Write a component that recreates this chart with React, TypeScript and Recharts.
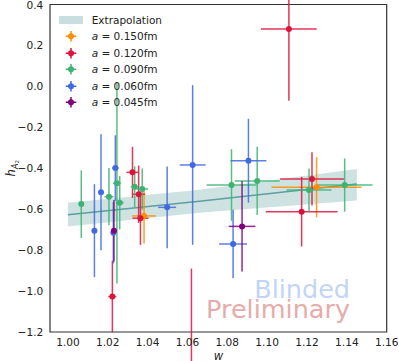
import {
  ComposedChart,
  XAxis,
  YAxis,
  Scatter,
  ErrorBar,
  Area,
  Line,
  Legend,
  ReferenceArea,
  ReferenceDot,
} from "recharts";

type Pt = { w: number; h: number; ew: number; eh: number };

// fit band (extrapolation)
const bandW = [1.0, 1.066, 1.145];
const bandLow = [-0.685, -0.617, -0.558];
const bandHigh = [-0.568, -0.505, -0.404];
const bandMid = [-0.627, -0.561, -0.477];

const a150: Pt[] = [
  { w: 1.0382, h: -0.633, ew: 0.006, eh: 0.135 },
  { w: 1.1248, h: -0.493, ew: 0.0226, eh: 0.147 },
];

const a120: Pt[] = [
  { w: 1.0223, h: -1.027, ew: 0.002, eh: 0.175 },
  { w: 1.0324, h: -0.42, ew: 0.003, eh: 0.125 },
  { w: 1.0355, h: -0.527, ew: 0.0033, eh: 0.14 },
  { w: 1.0364, h: -0.644, ew: 0.004, eh: 0.13 },
  { w: 1.062, h: -1.4, ew: 0.002, eh: 0.51 },
  { w: 1.1109, h: 0.28, ew: 0.014, eh: 0.35 },
  { w: 1.1173, h: -0.612, ew: 0.018, eh: 0.17 },
  { w: 1.1225, h: -0.452, ew: 0.016, eh: 0.13 },
];

const a090: Pt[] = [
  { w: 1.0067, h: -0.575, ew: 0.001, eh: 0.165 },
  { w: 1.0206, h: -0.539, ew: 0.0023, eh: 0.14 },
  { w: 1.0246, h: -0.473, ew: 0.002, eh: 0.49 },
  { w: 1.026, h: -0.568, ew: 0.002, eh: 0.13 },
  { w: 1.0335, h: -0.49, ew: 0.002, eh: 0.1 },
  { w: 1.0373, h: -0.501, ew: 0.003, eh: 0.1 },
  { w: 1.0821, h: -0.482, ew: 0.0125, eh: 0.175 },
  { w: 1.095, h: -0.462, ew: 0.0113, eh: 0.167 },
  { w: 1.121, h: -0.506, ew: 0.0113, eh: 0.105 },
  { w: 1.1389, h: -0.482, ew: 0.014, eh: 0.13 },
];

const a060: Pt[] = [
  { w: 1.0133, h: -0.705, ew: 0.001, eh: 0.227 },
  { w: 1.0166, h: -0.517, ew: 0.001, eh: 0.283 },
  { w: 1.0238, h: -0.399, ew: 0.0017, eh: 0.16 },
  { w: 1.0228, h: -0.715, ew: 0.001, eh: 0.15 },
  { w: 1.0498, h: -0.591, ew: 0.0045, eh: 0.2 },
  { w: 1.0626, h: -0.384, ew: 0.0065, eh: 0.39 },
  { w: 1.0906, h: -0.363, ew: 0.009, eh: 0.205 },
  { w: 1.0829, h: -0.77, ew: 0.007, eh: 0.167 },
];

const a045: Pt[] = [
  { w: 1.0231, h: -0.705, ew: 0.001, eh: 0.15 },
  { w: 1.0874, h: -0.684, ew: 0.0067, eh: 0.22 },
];

const xTicks = [1.0, 1.02, 1.04, 1.06, 1.08, 1.1, 1.12, 1.14, 1.16];
const yTicks = [-1.2, -1.0, -0.8, -0.6, -0.4, -0.2, 0.0, 0.2, 0.4];

const FONT = "DejaVu Sans, sans-serif";
const INK = "#222";
const FIT = "#5f9ea0";
const BAND_FILL = "#c9dfdf";

const series = [
  { label: "0.150", color: "#ff8c00", data: a150 },
  { label: "0.120", color: "#dc143c", data: a120 },
  { label: "0.090", color: "#3cb371", data: a090 },
  { label: "0.060", color: "#4169e1", data: a060 },
  { label: "0.045", color: "#800080", data: a045 },
];

const bandData = bandW.map((w, i) => ({
  w,
  band: [bandLow[i], bandHigh[i]],
  fit: bandMid[i],
}));

const minus = (s: string) => s.replace("-", "\u2212");

function LegendBox() {
  const row = { display: "flex", alignItems: "center", height: 16.5 } as const;
  return (
    <div style={{ fontFamily: FONT, fontSize: 10.5, color: INK, whiteSpace: "nowrap" }}>
      <div style={row}>
        <span style={{ display: "inline-block", width: 36.7 }}>
          <span
            style={{ display: "block", marginLeft: 4.3, width: 23.4, height: 7.6, background: BAND_FILL }}
          />
        </span>
        Extrapolation
      </div>
      {series.map((s) => (
        <div key={s.label} style={row}>
          <svg width={36.7} height={16.5} style={{ display: "block" }}>
            <line x1={10.7} x2={21.3} y1={8.25} y2={8.25} stroke={s.color} strokeWidth={1.5} />
            <line x1={16} x2={16} y1={2.9} y2={13.6} stroke={s.color} strokeWidth={1.5} />
            <circle cx={16} cy={8.25} r={3} fill={s.color} />
          </svg>
          <span>
            <i>a</i> = {s.label}fm
          </span>
        </div>
      ))}
    </div>
  );
}

function YLabel(props: any) {
  const vb = props.viewBox;
  const cx = vb.x + 15;
  const cy = vb.y + vb.height / 2;
  return (
    <text
      transform={`translate(${cx},${cy}) rotate(-90)`}
      textAnchor="middle"
      fontFamily={FONT}
      fontSize={11.5}
      fill={INK}
    >
      <tspan fontStyle="italic">h</tspan>
      <tspan fontStyle="italic" fontSize={8} dy={2.5}>
        A
      </tspan>
      <tspan fontSize={5.5} dy={1.5}>
        2
      </tspan>
    </text>
  );
}

function XLabel(props: any) {
  const vb = props.viewBox;
  return (
    <text
      x={vb.x + vb.width / 2}
      y={vb.y + 27.5}
      textAnchor="middle"
      fontFamily={FONT}
      fontSize={11.5}
      fontStyle="italic"
      fill={INK}
    >
      w
    </text>
  );
}

function mark(text: string, color: string) {
  return (props: any) => (
    <text
      x={props.viewBox.x}
      y={props.viewBox.y}
      textAnchor="end"
      fontFamily={FONT}
      fontSize={25.5}
      fill={color}
    >
      {text}
    </text>
  );
}

export default function App() {
  return (
    <div style={{ position: "fixed", top: 0, left: 0, background: "#fff" }}>
      <ComposedChart width={399} height={361} margin={{ top: 4.5, right: 12.3, bottom: 0, left: 0 }}>
        <XAxis
          dataKey="w"
          type="number"
          domain={[0.991, 1.16]}
          allowDataOverflow
          ticks={xTicks}
          tickFormatter={(v: number) => v.toFixed(2)}
          tickLine={false}
          tickSize={4.5}
          tickMargin={2}
          axisLine={false}
          height={29}
          tick={{ fontSize: 10.6, fill: INK, fontFamily: FONT }}
          label={{ content: XLabel }}
        />
        <YAxis
          dataKey="h"
          type="number"
          domain={[-1.2, 0.4]}
          allowDataOverflow
          ticks={yTicks}
          tickFormatter={(v: number) => minus(v.toFixed(1))}
          tickLine={false}
          tickSize={5}
          tickMargin={1.7}
          axisLine={false}
          width={50}
          tick={{ fontSize: 10.6, fill: INK, fontFamily: FONT }}
          label={{ content: YLabel }}
        />
        <Area
          data={bandData}
          dataKey="band"
          stroke="none"
          fill={FIT}
          fillOpacity={0.3}
          isAnimationActive={false}
        />
        <Line
          data={bandData}
          dataKey="fit"
          stroke={FIT}
          strokeWidth={1.5}
          dot={false}
          isAnimationActive={false}
        />
        {series.map((s) => (
          <Scatter
            key={s.label}
            data={s.data}
            fill={s.color}
            isAnimationActive={false}
            shape={(p: any) => <circle cx={p.cx} cy={p.cy} r={3} fill={s.color} />}
          >
            <ErrorBar dataKey="eh" direction="y" width={0} stroke={s.color} strokeWidth={1.5} strokeOpacity={0.85} />
            <ErrorBar dataKey="ew" direction="x" width={0} stroke={s.color} strokeWidth={1.5} strokeOpacity={0.85} />
          </Scatter>
        ))}
        <ReferenceDot x={1.1416} y={-1.035} r={0} stroke="none" label={{ content: mark("Blinded", "#c3d5f6") }} />
        <ReferenceDot
          x={1.1416}
          y={-1.133}
          r={0}
          stroke="none"
          label={{ content: mark("Preliminary", "#e8abab") }}
        />
        <ReferenceArea
          x1={0.991}
          x2={1.16}
          y1={-1.2}
          y2={0.4}
          fill="none"
          stroke="#333"
          strokeWidth={1.2}
        />
        <Legend
          layout="vertical"
          align="center"
          verticalAlign="middle"
          content={() => <LegendBox />}
          wrapperStyle={{ top: 11.5, left: 55, width: "auto", height: "auto" }}
        />
      </ComposedChart>
    </div>
  );
}
